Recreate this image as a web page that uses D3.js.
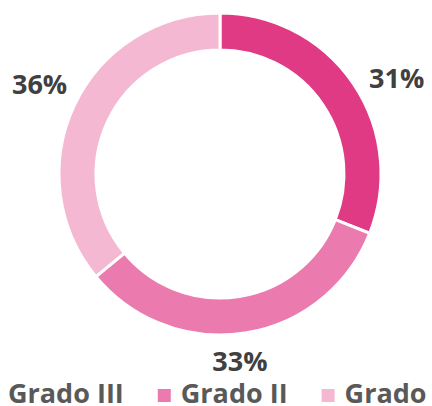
<!DOCTYPE html>
<html>
<head>
<meta charset="utf-8">
<script src="https://cdn.jsdelivr.net/npm/d3@7"></script>
<style>
  html, body { margin: 0; padding: 0; background: #fff; overflow: hidden; }
  svg { display: block; }
</style>
</head>
<body>
<div id="chart"></div>
<script>
// data
const categories = ['Grado III', 'Grado II', 'Grado I'];
const values = [31, 33, 36];
const colors = ['#E03A84', '#EB7AAE', '#F4B8D3'];

const width = 432;
const height = 406;
const cx = 220;
const cy = 174;
const outerR = 161;
const innerR = 124;

const svg = d3.select('#chart')
  .append('svg')
  .attr('width', width)
  .attr('height', height)
  .attr('xmlns', 'http://www.w3.org/2000/svg');

const color = d3.scaleOrdinal().domain(categories).range(colors);

const pie = d3.pie().sort(null).value(d => d.value);
const arcs = pie(categories.map((c, i) => ({ name: c, value: values[i] })));

const arc = d3.arc().innerRadius(innerR).outerRadius(outerR);

const g = svg.append('g').attr('transform', `translate(${cx},${cy})`);

g.selectAll('path')
  .data(arcs)
  .enter()
  .append('path')
  .attr('d', arc)
  .attr('fill', d => color(d.data.name))
  .attr('stroke', '#fff')
  .attr('stroke-width', 3);

// labels outside end, the text box pushed out along the mid angle
const gap = 17;
const labelFont = 27;
g.selectAll('.lbl')
  .data(arcs)
  .enter()
  .append('text')
  .attr('class', 'lbl')
  .attr('text-anchor', 'middle')
  .attr('fill', '#404040')
  .style('font-family', '"Open Sans", sans-serif')
  .style('font-weight', 'bold')
  .style('font-size', `${labelFont}px`)
  .text(d => `${d.data.value}%`)
  .each(function (d) {
    const el = d3.select(this);
    const w = this.getComputedTextLength();
    const h = 20;
    const a = (d.startAngle + d.endAngle) / 2 + 0.06;
    const s = Math.sin(a), c = Math.cos(a);
    const x = (outerR + gap) * s + (w / 2) * s;
    const y = -(outerR + gap) * c - (h / 2) * c;
    el.attr('x', x).attr('y', y + h / 2);
  });

// legend, laid out from the text widths, wider than the canvas
const legend = svg.append('g').attr('class', 'legend');
const legendFont = 27;
const box = 13;
const boxGap = 10;
const itemGap = 34;
const firstTextX = 8;
const baseline = 403;

let x = firstTextX - boxGap - box;
categories.forEach((c, i) => {
  legend.append('rect')
    .attr('x', x)
    .attr('y', baseline - 14)
    .attr('width', box)
    .attr('height', box)
    .attr('fill', color(c));
  const t = legend.append('text')
    .attr('x', x + box + boxGap)
    .attr('y', baseline)
    .attr('fill', '#595959')
    .style('font-family', '"Open Sans", sans-serif')
    .style('font-weight', 'bold')
    .style('font-size', `${legendFont}px`)
    .text(c);
  x += box + boxGap + t.node().getComputedTextLength() + itemGap;
});
</script>
</body>
</html>
